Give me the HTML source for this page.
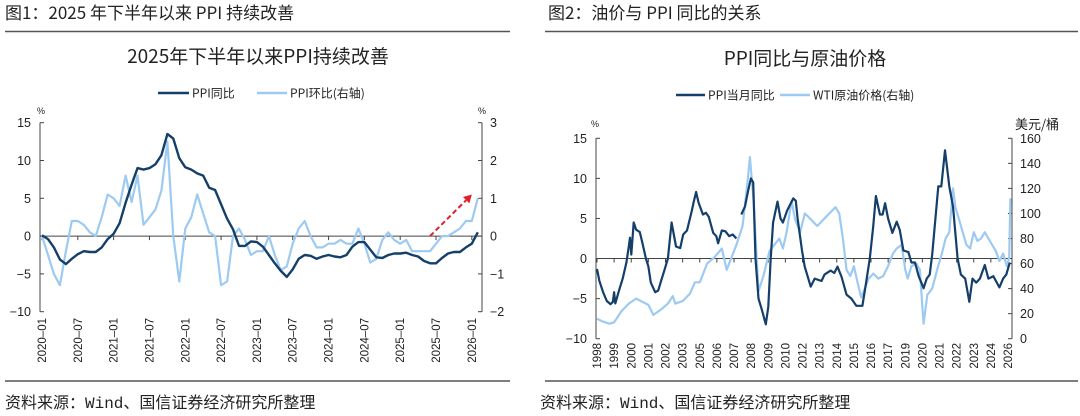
<!DOCTYPE html>
<html><head><meta charset="utf-8">
<style>
html,body{margin:0;padding:0;background:#fff;}
svg{display:block;font-family:"Liberation Sans","Noto Sans CJK SC",sans-serif;}
.cjk{font-family:"Noto Sans CJK SC","Liberation Sans",sans-serif;}
.mono{font-family:"Liberation Mono","Noto Sans CJK SC",monospace;}
</style></head>
<body>
<svg id="root" width="1080" height="416" viewBox="0 0 1080 416" xmlns="http://www.w3.org/2000/svg">
  <text class="cjk" x="5" y="19" font-size="17" fill="#222">图1：2025 年下半年以来 PPI 持续改善</text>
  <line x1="5" y1="31.5" x2="510" y2="31.5" stroke="#555" stroke-width="1.5"/>
  <text class="cjk" x="548" y="19" font-size="17" fill="#222">图2：油价与 PPI 同比的关系</text>
  <line x1="545" y1="31.5" x2="1078" y2="31.5" stroke="#555" stroke-width="1.5"/>
  <text class="cjk" x="258" y="63" font-size="19" fill="#222" text-anchor="middle">2025年下半年以来PPI持续改善</text>
  <text class="cjk" x="805" y="65" font-size="19" fill="#222" text-anchor="middle">PPI同比与原油价格</text>
  <g class="cjk">
    <line x1="158" y1="93" x2="189" y2="93" stroke="#143f6b" stroke-width="2.5"/>
    <text x="192" y="97.5" font-size="12" fill="#222">PPI同比</text>
    <line x1="257" y1="93" x2="287" y2="93" stroke="#9dcaf2" stroke-width="2.5"/>
    <text x="290" y="97.5" font-size="12" fill="#222">PPI环比(右轴)</text>
  </g>
  <g class="cjk">
    <line x1="676" y1="95" x2="705" y2="95" stroke="#143f6b" stroke-width="2.5"/>
    <text x="708" y="99.5" font-size="12" fill="#222">PPI当月同比</text>
    <line x1="780" y1="95" x2="810" y2="95" stroke="#9dcaf2" stroke-width="2.5"/>
    <text x="813" y="99.5" font-size="12" fill="#222">WTI原油价格(右轴)</text>
  </g>
  <g id="c1"></g>
  <g id="c2"></g>
  <line x1="5" y1="381" x2="510" y2="381" stroke="#555" stroke-width="1.5"/>
  <line x1="545" y1="381" x2="1078" y2="381" stroke="#555" stroke-width="1.5"/>
  <text class="mono" x="5" y="408" font-size="16" fill="#222">资料来源：Wind、国信证券经济研究所整理</text>
  <text class="mono" x="540" y="408" font-size="16" fill="#222">资料来源：Wind、国信证券经济研究所整理</text>
</svg>
<script>
// ---- Chart 1 data (monthly 2020-01 .. 2026-02) ----
var c1Start = [2020, 1];
var c1XLabels = ["2020-01","2020-07","2021-01","2021-07","2022-01","2022-07","2023-01","2023-07","2024-01","2024-07","2025-01","2025-07","2026-01"];
var c1LeftTicks = [15, 10, 5, 0, -5, -10];
var c1RightTicks = [3, 2, 1, 0, -1, -2];
var ppiYoY = [0.1,-0.4,-1.5,-3.1,-3.7,-3.0,-2.4,-2.0,-2.1,-2.1,-1.5,-0.4,
  0.3,1.7,4.4,6.8,9.0,8.8,9.0,9.5,10.7,13.5,12.9,10.3,
  9.1,8.8,8.3,8.0,6.4,6.1,4.2,2.3,0.9,-1.3,-1.3,-0.7,
  -0.8,-1.4,-2.5,-3.6,-4.6,-5.4,-4.4,-3.0,-2.5,-2.6,-3.0,-2.7,
  -2.5,-2.7,-2.8,-2.5,-1.4,-0.8,-0.8,-1.8,-2.8,-2.9,-2.5,-2.3,
  -2.3,-2.2,-2.5,-2.7,-3.3,-3.6,-3.6,-2.9,-2.3,-2.1,-2.1,-1.5,
  -1.0,0.5];
var ppiMoM = [0.0,-0.5,-1.0,-1.3,-0.4,0.4,0.4,0.3,0.1,0.0,0.5,1.1,
  1.0,0.8,1.6,0.9,1.6,0.3,0.5,0.7,1.2,2.5,0.0,-1.2,
  0.2,0.5,1.1,0.6,0.1,0.0,-1.3,-1.2,0.0,0.2,-0.1,-0.5,
  -0.4,-0.4,0.0,-0.5,-0.9,-0.8,-0.2,0.2,0.4,0.0,-0.3,-0.3,
  -0.2,-0.2,-0.1,-0.2,-0.2,0.2,-0.2,-0.7,-0.6,-0.1,0.1,-0.1,
  -0.2,-0.1,-0.4,-0.4,-0.4,-0.4,-0.2,0.0,0.0,0.1,0.2,0.4,
  0.4,1.0];
var c1Arrow = [["2025-06", 0.0], ["2026-01", 1.1]];

// ---- Chart 2 data (month offset from 1998-01) ----
var c2XLabels = ["1998","1999","2000","2001","2002","2003","2005","2006","2007","2008","2009","2010","2012","2013","2014","2015","2016","2017","2019","2020","2021","2022","2023","2024","2026"];
var c2LeftTicks = [15, 10, 5, 0, -5, -10];
var c2RightTicks = [160, 140, 120, 100, 80, 60, 40, 20, 0];
var ppiMonth = [0,2,5,8,11,13,14,15,18,21,24,26,27,28,30,32,35,37,40,42,44,47.6,50,53,55,58,61,64.6,68,70.5,73.6,77.6,79,81,83,86.6,89,91.4,95,97.5,99,102,105,108,111,114];
var ppiVal =   [-1.3,-2.8,-4.2,-5.3,-5.7,-5.4,-4.2,-5.6,-4.0,-2.5,-0.5,1.5,2.6,0.5,4.5,3.6,3.3,2.0,0,-1,-3,-4.2,-4.0,-2.5,-1.5,0,4.5,1.5,1.3,3.0,3.5,6.0,7.0,8.3,7.0,5.5,5.7,5.2,3.2,2.8,1.9,3.5,3.4,2.8,3.0,2.5];
var ppiMonth2 = [118,121,123.6,125.8,127.7,129.6,132,135,138,140,142,144,147.6,150,152,155.5,160.5,162.5,164,167.6,169.8,174.7,178,183.5,186,191,194,196.6,200,204,208,212,217,220,223,225.8,228,231.3,233.5,235.5,238,241.5,245,247.5,250.5,254.6,257,260,263,267,269.5,272,274,279,281.5,284.5,288,291,294.8,297.5,301,304.4,307,310,313,317,320,324,329,332,334.6,337.5];
var ppiVal2 =   [5.5,6.5,8.5,10.0,9.5,0,-5,-6.5,-8.2,-6,0,4.5,7.1,5,4.5,6,7.5,7.2,5,1,-1,-3.5,-2.5,-2.8,-2.0,-1.5,-1.8,-1.0,-2.3,-4.5,-5,-5.9,-5.9,-3,0,4,7.8,5.5,5.5,6.9,5,3.2,4.6,3.6,1,0.8,-0.5,-0.5,-2.2,-3.7,-2.5,-2,0.5,9,9,13.5,9,6.5,0,-2.0,-2.5,-5.4,-2.5,-3,-2.5,-0.8,-2.5,-2.2,-3.6,-2.5,-2.0,-0.5];
var wtiMonth = [0,4,10,14,20,26,32,36,42,46,52,58,62,64,70,76,80,84,90,96,102,106,110,114,119,123,125,128,132,136,141,145,149,152,155,159,162,166,170,175,180,185,190,195,198,201,204,207,210,213,216,219,222,226,230,234,238,242,245,249,252,254,257,261,264,266,267,270,274,278,282,285,288,291,293,296,299,302,305,308,311,314,317,320,323,326,329,332,335,337,338];
var wtiVal = [16,14,12,13,22,28,32,30,27,19,23,28,34,28,30,36,45,45,60,65,72,55,65,75,90,125,145,110,38,50,70,75,80,72,85,110,95,85,100,95,90,95,100,105,100,80,55,50,58,45,33,40,48,52,48,50,58,68,72,75,55,48,58,60,55,25,12,35,40,55,68,80,85,120,105,95,85,75,72,85,78,80,85,80,75,70,62,68,58,65,112];

var NS = "http://www.w3.org/2000/svg";
function mk(parent, tag, attrs, txt) {
  var e = document.createElementNS(NS, tag);
  for (var k in attrs) e.setAttribute(k, attrs[k]);
  if (txt !== undefined) e.textContent = txt;
  parent.appendChild(e);
  return e;
}
var AX = "#444", TXT = "#222", DARK = "#143f6b", LIGHT = "#9dcaf2";

// ================= Chart 1 =================
(function () {
  var g = document.getElementById("c1");
  var L = 40, R = 482, T = 122.7, B = 311.7;
  var yl = function (v) { return T + (15 - v) / 25 * (B - T); };
  var yr = function (v) { return T + (3 - v) / 5 * (B - T); };
  var step = 5.97;
  var x0 = 42;
  var mIdx = function (s) { var p = s.split("-"); return (+p[0] - c1Start[0]) * 12 + (+p[1] - c1Start[1]); };
  var xm = function (i) { return x0 + i * step; };
  mk(g, "line", {x1: L, y1: T, x2: L, y2: B, stroke: AX, "stroke-width": 1});
  mk(g, "line", {x1: R, y1: T, x2: R, y2: B, stroke: AX, "stroke-width": 1});
  mk(g, "text", {x: 41, y: 114, "font-size": 9, fill: TXT, "text-anchor": "middle"}, "%");
  mk(g, "text", {x: 482, y: 114, "font-size": 9, fill: TXT, "text-anchor": "middle"}, "%");
  c1LeftTicks.forEach(function (v) {
    var y = yl(v);
    var t = mk(g, "line", {x1: L, y1: y, x2: L + 4, y2: y, stroke: AX});
    
    
    var lb = mk(g, "text", {x: 31, y: y + 4.5, "font-size": 12.5, fill: TXT, "text-anchor": "end"}, (v < 0 ? "\u2212" + (-v) : v));
    
    
  });
  c1RightTicks.forEach(function (v) {
    var y = yr(v);
    mk(g, "line", {x1: R - 4, y1: y, x2: R, y2: y, stroke: AX});
    var lb = mk(g, "text", {x: 490, y: y + 4.5, "font-size": 12.5, fill: TXT}, (v < 0 ? "\u2212" + (-v) : v));
    
    
  });
  var y0 = yl(0);
  var zl = mk(g, "line", {x1: L, y1: y0, x2: R, y2: y0, stroke: AX, "stroke-width": 1});
  
  
  c1XLabels.forEach(function (s) {
    var x = xm(mIdx(s));
    mk(g, "line", {x1: x, y1: y0, x2: x, y2: y0 + 4, stroke: AX});
    var lb = mk(g, "text", {x: 0, y: 0, "font-size": 11.5, fill: TXT, "text-anchor": "end", transform: "translate(" + (x + 4) + ",318) rotate(-90)"}, s.replace("-", "\u2013"));
    
    
  });
  var pm = ppiMoM.map(function (v, i) { return xm(i).toFixed(1) + "," + yr(v).toFixed(1); }).join(" ");
  var l2 = mk(g, "polyline", {points: pm, fill: "none", stroke: LIGHT, "stroke-width": 2.2, "stroke-linejoin": "round"});
  
  
  var py = ppiYoY.map(function (v, i) { return xm(i).toFixed(1) + "," + yl(v).toFixed(1); }).join(" ");
  var l1 = mk(g, "polyline", {points: py, fill: "none", stroke: DARK, "stroke-width": 2.4, "stroke-linejoin": "round"});
  
  
  var ax1 = xm(mIdx(c1Arrow[0][0])), ay1 = yr(c1Arrow[0][1]);
  var ax2 = xm(mIdx(c1Arrow[1][0])), ay2 = yr(c1Arrow[1][1]);
  var ang = Math.atan2(ay2 - ay1, ax2 - ax1);
  var ex = ax2 - 8 * Math.cos(ang), ey = ay2 - 8 * Math.sin(ang);
  var ar = mk(g, "line", {x1: ax1, y1: ay1, x2: ex, y2: ey, stroke: "#e0202a", "stroke-width": 2, "stroke-dasharray": "5,3"});
  
  
  var p1 = [ax2, ay2], p2 = [ex + 4.5 * Math.sin(ang), ey - 4.5 * Math.cos(ang)], p3 = [ex - 4.5 * Math.sin(ang), ey + 4.5 * Math.cos(ang)];
  var ah = mk(g, "polygon", {points: p1.join(",") + " " + p2.join(",") + " " + p3.join(","), fill: "#e0202a"});
  
  
})();

// ================= Chart 2 =================
(function () {
  var g = document.getElementById("c2");
  var L = 596, R = 1012, T = 138.3, B = 338.7;
  var yl = function (v) { return T + (15 - v) / 25 * (B - T); };
  var yr = function (v) { return T + (160 - v) / 160 * (B - T); };
  var xm = function (m) { return 597 + m * (411 / 336); };
  mk(g, "line", {x1: L, y1: T, x2: L, y2: B, stroke: AX});
  mk(g, "line", {x1: R, y1: T, x2: R, y2: B, stroke: AX});
  mk(g, "text", {x: 595, y: 127, "font-size": 9, fill: TXT, "text-anchor": "middle"}, "%");
  mk(g, "text", {x: 1037, y: 129, "font-size": 13, fill: TXT, "text-anchor": "middle", "class": "cjk"}, "美元/桶");
  c2LeftTicks.forEach(function (v) {
    var y = yl(v);
    mk(g, "line", {x1: L, y1: y, x2: L + 4, y2: y, stroke: AX});
    var lb = mk(g, "text", {x: 587, y: y + 4.5, "font-size": 12.5, fill: TXT, "text-anchor": "end"}, (v < 0 ? "\u2212" + (-v) : v));
    
    
  });
  c2RightTicks.forEach(function (v) {
    var y = yr(v);
    mk(g, "line", {x1: R - 4, y1: y, x2: R, y2: y, stroke: AX});
    var lb = mk(g, "text", {x: 1020, y: y + 4.5, "font-size": 12.5, fill: TXT}, v);
    
    
  });
  var y0 = yl(0);
  var zl = mk(g, "line", {x1: L, y1: y0, x2: R, y2: y0, stroke: AX});
  
  
  c2XLabels.forEach(function (s, i) {
    var x = xm(i * 14);
    mk(g, "line", {x1: x, y1: y0, x2: x, y2: y0 + 4, stroke: AX});
    var lb = mk(g, "text", {x: 0, y: 0, "font-size": 11.5, fill: TXT, "text-anchor": "end", transform: "translate(" + (x + 4) + ",343) rotate(-90)"}, s);
    
    
  });
  var wp = wtiMonth.map(function (m, i) { return xm(m).toFixed(1) + "," + yr(wtiVal[i]).toFixed(1); }).join(" ");
  var lw = mk(g, "polyline", {points: wp, fill: "none", stroke: LIGHT, "stroke-width": 2.2, "stroke-linejoin": "round"});
  
  
  var pa = ppiMonth.map(function (m, i) { return xm(m).toFixed(1) + "," + yl(ppiVal[i]).toFixed(1); }).join(" ");
  var lp = mk(g, "polyline", {points: pa, fill: "none", stroke: DARK, "stroke-width": 2.2, "stroke-linejoin": "round"});
  
  
  var pb = ppiMonth2.map(function (m, i) { return xm(m).toFixed(1) + "," + yl(ppiVal2[i]).toFixed(1); }).join(" ");
  var lp2 = mk(g, "polyline", {points: pb, fill: "none", stroke: DARK, "stroke-width": 2.2, "stroke-linejoin": "round"});
  
  
})();
</script>
</body></html>
